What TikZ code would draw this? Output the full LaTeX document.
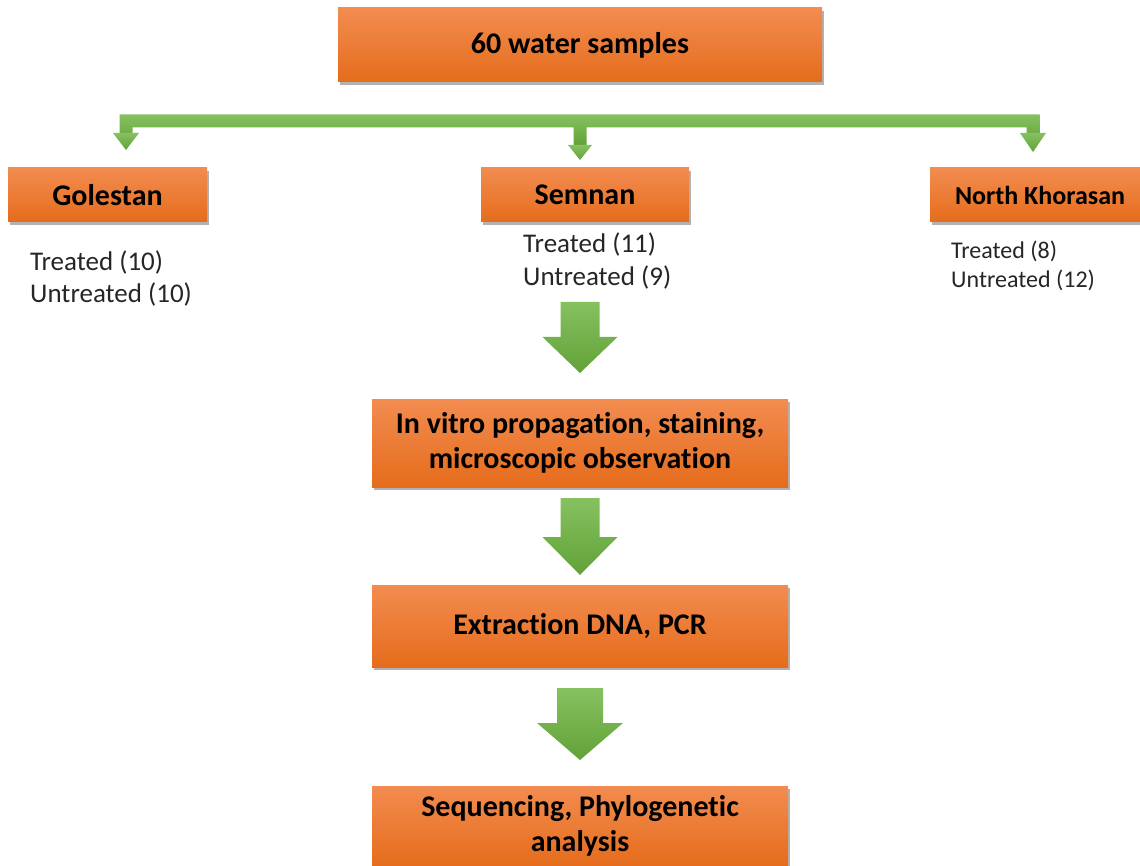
\documentclass[tikz,border=0pt]{standalone}
\usepackage{fontspec}
\setmainfont{Carlito}[Ligatures=NoCommon]
\usetikzlibrary{shadows}
\definecolor{orT}{HTML}{F28C50}
\definecolor{orB}{HTML}{E56C1C}
\definecolor{grT}{HTML}{86C160}
\definecolor{grB}{HTML}{62A238}
\definecolor{txt}{HTML}{262626}
\tikzset{
  obox/.style={rectangle, top color=orT, bottom color=orB, draw=none,
    drop shadow={shadow xshift=1.5pt, shadow yshift=-3pt, opacity=.3, fill=black},
    text=black, font=\fontsize{30}{36}\selectfont\bfseries, align=center, inner sep=0pt},
  ctext/.style={text=txt, font=\fontsize{27}{32}\selectfont, align=left, inner sep=0pt, anchor=west},
  garrow/.style={top color=grT, bottom color=grB, draw=none},
}
\newcommand{\blockarrow}[6]{% x, ytop, yhead, ytip, shaft half, head half
  \path[garrow] ({#1-#5},#2) -- ({#1+#5},#2) -- ({#1+#5},#3) -- ({#1+#6},#3) -- (#1,#4) -- ({#1-#6},#3) -- ({#1-#5},#3) -- cycle;}
\begin{document}
\begin{tikzpicture}[x=1pt,y=-1pt]
\fill[white] (0,0) rectangle (1140,866);
\useasboundingbox (0,0) rectangle (1140,866);

% boxes
\node[obox, minimum width=484pt, minimum height=74pt] (top) at (580,45) {60 water samples};
\node[obox, minimum width=199pt, minimum height=54pt] (gol) at (107.5,195) {Golestan};
\node[obox, minimum width=208pt, minimum height=54pt] (sem) at (585,195) {Semnan};
\node[obox, minimum width=220pt, minimum height=54pt, font=\fontsize{26}{30}\selectfont\bfseries] (nk) at (1040,195) {North Khorasan};
\node[obox, minimum width=416pt, minimum height=88pt, font=\fontsize{30}{35}\selectfont\bfseries] (vitro) at (580,443) {In vitro propagation, staining,\\microscopic observation};
\node[obox, minimum width=416pt, minimum height=82pt] (dna) at (580,626) {Extraction DNA, PCR};
\node[obox, minimum width=416pt, minimum height=80pt, font=\fontsize{30}{35}\selectfont\bfseries] (seq) at (580,826) {Sequencing, Phylogenetic\\analysis};

% counts
\node[ctext] (golt) at (30,278) {Treated (10)\\Untreated (10)};
\node[ctext, font=\fontsize{27}{33}\selectfont] (semt) at (523,261) {Treated (11)\\Untreated (9)};
\node[ctext, font=\fontsize{24}{29}\selectfont] (nkt) at (951,266) {Treated (8)\\Untreated (12)};

% distribution bar
\path[garrow] (119.5,114.5) -- (1039.5,114.5) -- (1039.5,134) -- (1026.5,134) -- (1026.5,127.5)
  -- (586.5,127.5) -- (586.5,145) -- (573.5,145) -- (573.5,127.5) -- (132.5,127.5) -- (132.5,134) -- (119.5,134) -- cycle;
\path[garrow] (113,133) -- (139,133) -- (126,150) -- cycle;
\path[garrow] (568,145) -- (592,145) -- (580,160) -- cycle;
\path[garrow] (1020,133) -- (1046,133) -- (1033,152) -- cycle;

% block arrows
\blockarrow{580}{302}{337}{373}{19.5}{37.5}
\blockarrow{580}{498}{537}{575}{19.5}{37.5}
\blockarrow{580}{688}{723}{760}{23}{43}
\end{tikzpicture}
\end{document}
